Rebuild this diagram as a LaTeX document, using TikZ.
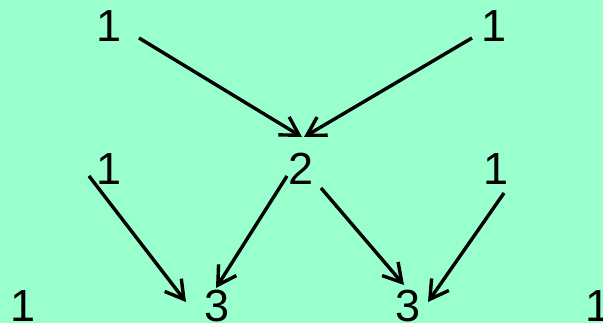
\documentclass[tikz,border=0pt]{standalone}
\usepackage{fontspec}
\setmainfont{Liberation Sans}
\usepackage{tikz}
\usetikzlibrary{arrows.meta,calc}
\usepackage{xcolor}
\definecolor{bgmint}{HTML}{99FFCC}

\begin{document}
\begin{tikzpicture}[x=1pt,y=1pt,
  num/.style={anchor=base,inner sep=0pt,font=\fontsize{45}{54}\selectfont},
  arr/.style={line width=3.4pt,-{Straight Barb[length=18pt,width=21pt]}}]
  \useasboundingbox (0,0) rectangle (603,323);
  \fill[bgmint] (0,0) rectangle (603,323);
  % top row
  \node[num] (t1) at (109,281){1};
  \node[num] (t2) at (494,281){1};
  % middle row
  \node[num] (m1) at (109,138){1};
  \node[num] (m2) at (301,138){2};
  \node[num] (m3) at (496,138){1};
  % bottom row
  \node[num] (b1) at (23,1){1};
  \node[num] (b2) at (217.5,1){3};
  \node[num] (b3) at (408.5,1){3};
  \node[num] (b4) at (598,1){1};
  % arrows
  \draw[arr] ($(t1.base)+(30,4)$) -- ($(m2.base)+(1,48)$);
  \draw[arr] ($(t2.base)+(-22,4)$) -- ($(m2.base)+(3,48)$);
  \draw[arr] ($(m1.base)+(-20,9)$) -- ($(b2.base)+(-31.5,20)$);
  \draw[arr] ($(m2.base)+(-14,9)$) -- ($(b2.base)+(-1.5,34)$);
  \draw[arr] ($(m2.base)+(20,-3)$) -- ($(b3.base)+(-4.5,37)$);
  \draw[arr] ($(m3.base)+(8,-8)$) -- ($(b3.base)+(19.5,20)$);
\end{tikzpicture}
\end{document}
